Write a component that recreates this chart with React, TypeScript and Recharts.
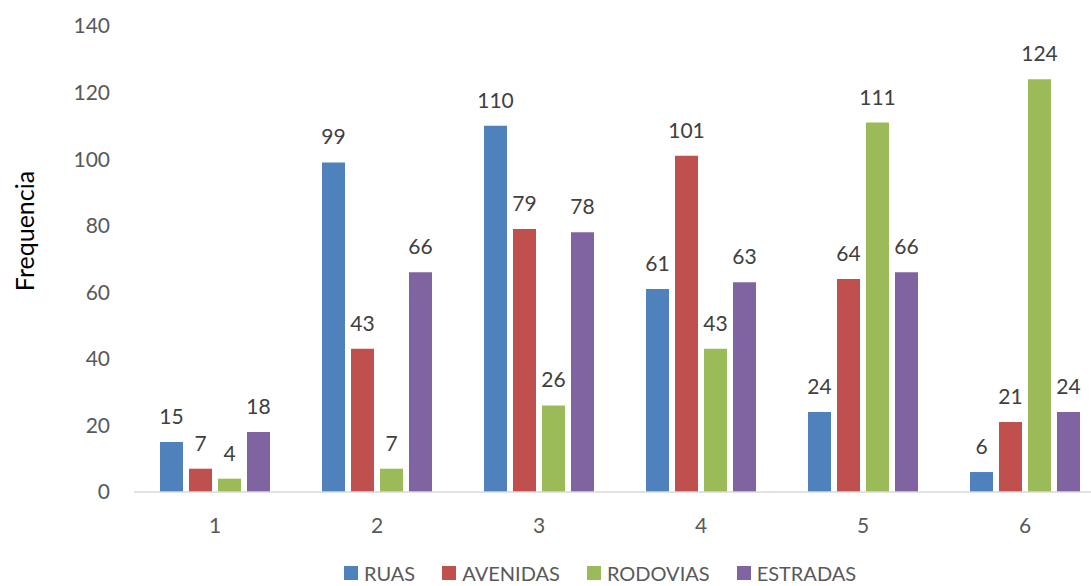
import { BarChart, Bar, XAxis, YAxis, Legend, LabelList } from "recharts";

const categories = ["1", "2", "3", "4", "5", "6"];
const ruas = [15, 99, 110, 61, 24, 6];
const avenidas = [7, 43, 79, 101, 64, 21];
const rodovias = [4, 7, 26, 43, 111, 124];
const estradas = [18, 66, 78, 63, 66, 24];
const yTicks = [0, 20, 40, 60, 80, 100, 120, 140];

const SERIES = [
  { key: "ruas", name: "RUAS", color: "#4f81bd" },
  { key: "avenidas", name: "AVENIDAS", color: "#c0504d" },
  { key: "rodovias", name: "RODOVIAS", color: "#9bbb59" },
  { key: "estradas", name: "ESTRADAS", color: "#8064a2" },
];

const data = categories.map((c, i) => ({
  name: c,
  ruas: ruas[i],
  avenidas: avenidas[i],
  rodovias: rodovias[i],
  estradas: estradas[i],
}));

const FONT = "Lato, 'Liberation Sans', sans-serif";

// legend sits at the very bottom edge, like the cropped original
const renderLegend = () => (
  <div
    style={{
      display: "flex",
      height: 18,
      lineHeight: "18px",
      paddingBottom: 4,
      paddingLeft: 344,
      fontFamily: FONT,
      fontSize: 20,
      color: "#595959",
    }}
  >
    {SERIES.map((s) => (
      <div key={s.key} style={{ display: "flex", alignItems: "center", marginRight: 27 }}>
        <span style={{ width: 14, height: 14, background: s.color, marginRight: 6, display: "inline-block" }} />
        <span>{s.name}</span>
      </div>
    ))}
  </div>
);

const AxisTitle = () => (
  <text
    x={24}
    y={231}
    transform="rotate(-90 24 231)"
    textAnchor="middle"
    dominantBaseline="central"
    fill="#000"
    style={{ fontFamily: FONT, fontSize: 25 }}
  >
    Frequencia
  </text>
);

export default function App() {
  return (
    <div style={{ position: "absolute", left: 0, top: 0, width: 1091, height: 586, overflow: "hidden", background: "#fff" }}>
      <BarChart
        width={1120}
        height={586}
        data={data}
        margin={{ top: 26, right: 14, bottom: 0, left: 0 }}
        barSize={23}
        barGap={6}
      >
        <XAxis
          dataKey="name"
          axisLine={{ stroke: "#d9d9d9", strokeWidth: 1.5 }}
          tickLine={false}
          tickMargin={20}
          height={72}
          tick={{ fill: "#595959", fontSize: 21, fontFamily: FONT }}
        />
        <YAxis
          width={134}
          domain={[0, 140]}
          ticks={yTicks}
          axisLine={false}
          tickLine={false}
          tickMargin={18}
          tick={{ fill: "#595959", fontSize: 21, fontFamily: FONT }}
          label={{ content: () => <AxisTitle /> }}
        />
        <Legend verticalAlign="bottom" content={renderLegend} />
        {SERIES.map((s) => (
          <Bar key={s.key} dataKey={s.key} name={s.name} fill={s.color} isAnimationActive={false}>
            <LabelList
              dataKey={s.key}
              position="top"
              offset={18}
              fill="#404040"
              style={{ fontSize: 21, fontFamily: FONT }}
            />
          </Bar>
        ))}
      </BarChart>
    </div>
  );
}
